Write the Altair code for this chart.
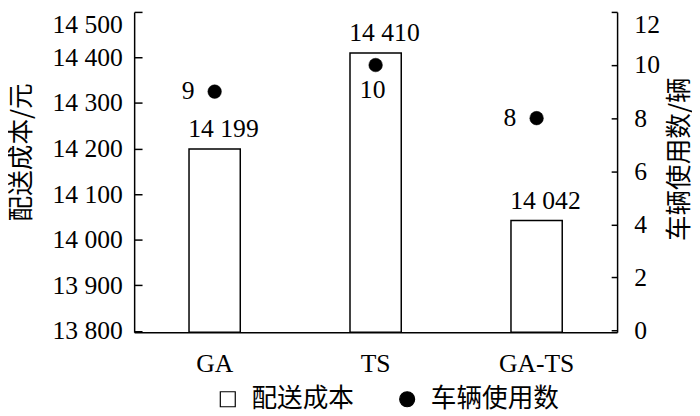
import altair as alt
import pandas as pd

methods = ["GA", "TS", "GA-TS"]
costs = [14199, 14410, 14042]
vehicles = [9, 10, 8]
cost_ticks = [13800, 13900, 14000, 14100, 14200, 14300, 14400, 14500]
vehicle_ticks = [0, 2, 4, 6, 8, 10, 12]
series_names = ["配送成本", "车辆使用数"]
cost_domain = [13797, 14500]
veh_domain = [-0.06, 12]

df = pd.DataFrame({"method": methods, "cost": costs, "vehicles": vehicles})
df["cost_label"] = [f"{c:,}".replace(",", " ") for c in costs]
df["veh_label"] = [str(v) for v in vehicles]

SERIF = "Liberation Serif"
CJK = "Noto Sans CJK SC"
FS = 26
CFS = 26


def build(inward=True):
    tick_left = {"expr": "-8"} if inward else 8
    tick_right = {"expr": "-6"} if inward else 6
    lp_left = 20 if inward else 12
    lp_right = 23 if inward else 16

    x = alt.X(
        "method:N", sort=methods, title=None,
        scale=alt.Scale(paddingInner=0, paddingOuter=0),
        axis=alt.Axis(labelAngle=0, ticks=False, labelPadding=19, labelFont=SERIF,
                      labelFontSize=FS, labelColor="black", domainColor="black",
                      domainWidth=1.5),
    )
    y_cost = alt.Y(
        "cost:Q",
        scale=alt.Scale(domain=cost_domain, nice=False, zero=False),
        axis=alt.Axis(title="配送成本/元", values=cost_ticks,
                      labelExpr="replace(format(datum.value, ','), ',', ' ')",
                      tickSize=tick_left, tickColor="black", tickWidth=1.5,
                      domainColor="black", domainWidth=1.5, labelFlush=True,
                      labelPadding=lp_left, labelFont=SERIF, labelFontSize=FS,
                      labelColor="black", titleFont=CJK, titleFontSize=CFS,
                      titleFontWeight="normal", titleColor="black", titlePadding=18,
                      titleY=142, grid=False),
    )
    y_veh = alt.Y(
        "vehicles:Q",
        scale=alt.Scale(domain=veh_domain, nice=False, zero=False),
        axis=alt.Axis(orient="right", title="车辆使用数/辆", values=vehicle_ticks,
                      tickSize=tick_right, tickColor="black", tickWidth=1.5,
                      domainColor="black", domainWidth=1.5, labelFlush=True,
                      labelPadding=lp_right, labelFont=SERIF, labelFontSize=FS,
                      labelColor="black", titleFont=CJK, titleFontSize=CFS,
                      titleFontWeight="normal", titleColor="black",
                      titleAngle=270, titleX=63, titleY=149, titleBaseline="middle",
                      titleAlign="center", grid=False),
    )

    legend = alt.Legend(title=None, orient="none", legendX=82, legendY=380,
                        direction="horizontal", labelFont=CJK, labelFontSize=26,
                        labelColor="black", symbolSize=230, symbolStrokeColor="black",
                        symbolStrokeWidth=1.2, columnPadding=40, labelOffset=11,
                        padding=0, symbolOpacity=1)
    fill_scale = alt.Scale(domain=series_names, range=["white", "black"])
    stroke_scale = alt.Scale(domain=series_names, range=["black", "black"])
    shape_scale = alt.Scale(domain=series_names, range=["square", "circle"])

    base_l = alt.Chart(df).encode(x=x, y=y_cost)
    bars = base_l.transform_calculate(series=f"'{series_names[0]}'").mark_bar(
        size=52, strokeWidth=1.5
    ).encode(
        y2=alt.Y2(datum=cost_domain[0]),
        fill=alt.Fill("series:N", scale=fill_scale, legend=legend),
        stroke=alt.Stroke("series:N", scale=stroke_scale, legend=legend),
    )
    bar_text = base_l.mark_text(dx=9, dy=-12, baseline="alphabetic", font=SERIF,
                                fontSize=FS, color="black").encode(text="cost_label:N")
    left = alt.layer(bars, bar_text)

    base_r = alt.Chart(df).encode(x=x, y=y_veh)
    points = base_r.transform_calculate(series=f"'{series_names[1]}'").mark_point(
        filled=True, size=190, opacity=1, strokeWidth=0.5
    ).encode(
        fill=alt.Fill("series:N", scale=fill_scale, legend=legend),
        stroke=alt.Stroke("series:N", scale=stroke_scale, legend=legend),
        shape=alt.Shape("series:N", scale=shape_scale, legend=legend),
    )
    pt_text_side = base_r.transform_filter("datum.method != 'TS'").mark_text(
        dx=-27, baseline="middle", font=SERIF, fontSize=FS, color="black"
    ).encode(text="veh_label:N")
    pt_text_below = base_r.transform_filter("datum.method == 'TS'").mark_text(
        dx=-3, dy=25, baseline="middle", font=SERIF, fontSize=FS, color="black"
    ).encode(text="veh_label:N")
    right = alt.layer(points, pt_text_side, pt_text_below)

    chart = (
        alt.layer(left, right)
        .resolve_scale(y="independent")
        .properties(width=490, height=325, padding=0, background="white")
        .configure_view(stroke=None)
    )
    return chart


try:
    chart = build(True)
    chart.to_dict()
except Exception:
    chart = build(False)

chart.save("out.html", embed_options={"renderer": "svg", "actions": False})
